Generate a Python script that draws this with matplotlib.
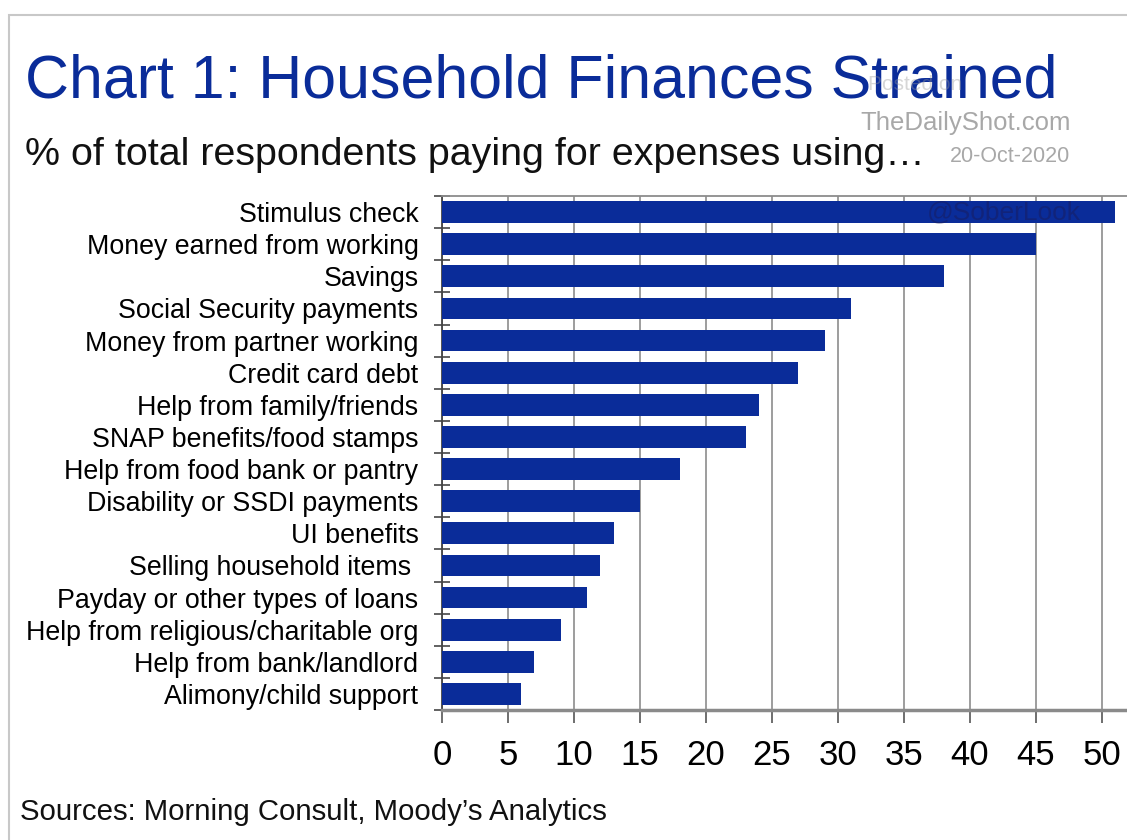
import numpy as np
import matplotlib.pyplot as plt
from matplotlib.ticker import FixedLocator

plt.rcParams['font.family'] = ['Liberation Sans', 'DejaVu Sans']

# Share of respondents (%) by source used to pay expenses
categories = [
    "Stimulus check",
    "Money earned from working",
    "Savings",
    "Social Security payments",
    "Money from partner working",
    "Credit card debt",
    "Help from family/friends",
    "SNAP benefits/food stamps",
    "Help from food bank or pantry",
    "Disability or SSDI payments",
    "UI benefits",
    "Selling household items ",
    "Payday or other types of loans",
    "Help from religious/charitable org",
    "Help from bank/landlord",
    "Alimony/child support",
]
shares = [51, 45, 38, 31, 29, 27, 24, 23, 18, 15, 13, 12, 11, 9, 7, 6]
xticks = [0, 5, 10, 15, 20, 25, 30, 35, 40, 45, 50]

navy = "#0a2c99"

fig = plt.figure(figsize=(11.27, 8.4), dpi=100)
fig.patch.set_facecolor("white")

# thin frame around the whole chart
frame = plt.Rectangle((9 / 1127, -0.05), 1.2, 1 - 15 / 840 + 0.05,
                      transform=fig.transFigure, fill=False,
                      edgecolor="#c8c8c8", linewidth=1.5)
fig.patches.append(frame)

ax = fig.add_axes([442 / 1127, 1 - 710 / 840, 1 - 442 / 1127, (710 - 196) / 840])
ypos = np.arange(len(categories))
ax.barh(ypos, shares, height=0.68, color=navy, zorder=3)

ax.set_ylim(len(categories) - 0.5, -0.5)
ax.set_xlim(0, 51.9)

ax.set_yticks(ypos)
ax.set_yticklabels(categories, fontsize=19.3)
ax.tick_params(axis="y", length=0, pad=17)
ax.yaxis.set_minor_locator(FixedLocator(np.arange(-0.5, len(categories), 1.0)))
ax.tick_params(axis="y", which="minor", direction="inout", length=12,
               width=1.3, color="#555555")

ax.set_xticks(xticks)
ax.set_xticklabels([str(v) for v in xticks], fontsize=25)
ax.tick_params(axis="x", direction="out", length=9, width=1.2,
               color="#555555", pad=12)
ax.grid(axis="x", color="#8c8c8c", linewidth=1.2, zorder=0)

ax.spines["right"].set_visible(False)
ax.spines["top"].set_color("#8c8c8c")
ax.spines["top"].set_linewidth(1.3)
ax.spines["left"].set_color("#444444")
ax.spines["left"].set_linewidth(1.3)
ax.spines["bottom"].set_color("#8a8a8a")
ax.spines["bottom"].set_linewidth(2.5)

fig.text(25 / 1127, 1 - 82 / 840, "Chart 1: Household Finances Strained",
         fontsize=43.8, color="#0a2c99", va="center", ha="left")
fig.text(25 / 1127, 1 - 155 / 840,
         "% of total respondents paying for expenses using\u2026",
         fontsize=28.4, color="#111111", va="center", ha="left")
fig.text(20 / 1127, 1 - 812 / 840, "Sources: Morning Consult, Moody\u2019s Analytics",
         fontsize=21.2, color="#111111", va="center", ha="left")

# source watermarks
fig.text(915 / 1127, 1 - 85 / 840, "Posted on", fontsize=15, color="#999999",
         alpha=0.4, va="center", ha="center")
fig.text(966 / 1127, 1 - 123 / 840, "TheDailyShot.com", fontsize=18.5,
         color="#a8a8a8", va="center", ha="center")
fig.text(1010 / 1127, 1 - 156 / 840, "20-Oct-2020", fontsize=15.5,
         color="#a8a8a8", va="center", ha="center")
fig.text(1004 / 1127, 1 - 212 / 840, "@SoberLook", fontsize=19,
         color="#1a1a55", alpha=0.45, va="center", ha="center", zorder=5)

fig.savefig("out.png", dpi=100, facecolor="white")
